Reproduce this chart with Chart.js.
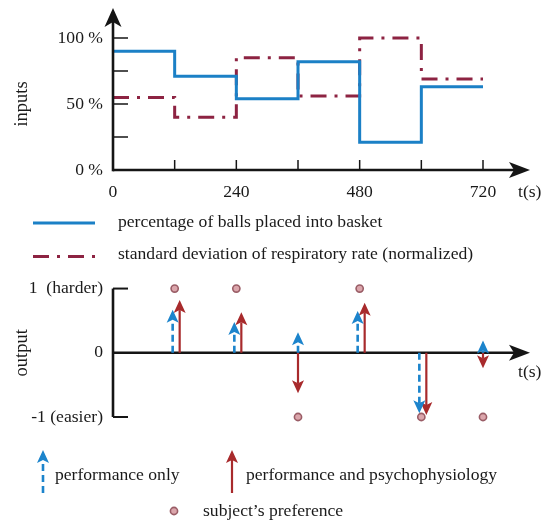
<!DOCTYPE html>
<html>
<head>
<meta charset="utf-8">
<script src="https://cdn.jsdelivr.net/npm/chart.js@4.4.1/dist/chart.umd.min.js"></script>
<style>
body { margin: 0; background: #fff; }
canvas { position: absolute; left: 0; }
#inputsChart { top: 0; }
#outputChart { top: 268px; }
</style>
</head>
<body>
<canvas id="inputsChart" width="551" height="268"></canvas>
<canvas id="outputChart" width="551" height="263"></canvas>
<script>
// ---- data ----
const times = [0, 120, 240, 360, 480, 600, 720];
const ballsPct = [90, 71, 54, 82, 21, 63, 63];      // % of balls placed into basket
const respStd = [55, 40, 85, 56, 100, 69, 69];      // std of respiratory rate (normalized, %)
const inputTickLabels = ['0 %', '50 %', '100 %'];
const timeTickLabels = ['0', '240', '480', '720'];

const changeTimes = [120, 240, 360, 480, 600, 720];
const perfOnly = [0.67, 0.48, 0.32, 0.65, -0.94, 0.19];
const perfPsycho = [0.82, 0.63, -0.63, 0.78, -0.97, -0.24];
const preference = [1, 1, -1, 1, -1, -1];
const outputTickLabels = ['-1 (easier)', '0', '1  (harder)'];

const FONT = '"Liberation Serif", "Times New Roman", serif';
const FS = 17.6;
const AXIS = '#151515';
const BLUE = '#1b80c6';
const MAROON = '#8d2342';
const RED = '#a82a2c';
const BLUE_ARROW = '#1c84cc';

Chart.defaults.font.family = FONT;
Chart.defaults.font.size = FS;
Chart.defaults.color = '#1a1a1a';

function seg(ctx, x1, y1, x2, y2) {
    ctx.beginPath();
    ctx.moveTo(x1, y1);
    ctx.lineTo(x2, y2);
    ctx.stroke();
}

// arrow head with a notched back, tip at (tx,ty), pointing along (dx,dy)
function head(ctx, tx, ty, dx, dy, len, half, notch) {
    const nx = -dy, ny = dx;
    ctx.beginPath();
    ctx.moveTo(tx, ty);
    ctx.lineTo(tx - dx * len + nx * half, ty - dy * len + ny * half);
    ctx.lineTo(tx - dx * (len - notch), ty - dy * (len - notch));
    ctx.lineTo(tx - dx * len - nx * half, ty - dy * len - ny * half);
    ctx.closePath();
    ctx.fill();
}

function arrow(ctx, x, y0, y1, color, dashed) {
    const dir = y1 < y0 ? -1 : 1;
    const hl = 13;
    ctx.save();
    ctx.strokeStyle = color;
    ctx.fillStyle = color;
    ctx.lineWidth = dashed ? 2.6 : 2.2;
    ctx.setLineDash(dashed ? [7, 4] : []);
    seg(ctx, x, y0, x, y1 - dir * (hl - 3));
    ctx.setLineDash([]);
    head(ctx, x, y1, 0, dir, hl, 6, 3);
    ctx.restore();
}

const inputsDecor = {
    id: 'inputsDecor',
    afterDatasetsDraw(chart) {
        const { ctx, chartArea: a, scales: { x, y } } = chart;
        ctx.save();
        ctx.strokeStyle = AXIS;
        ctx.fillStyle = AXIS;
        ctx.lineWidth = 1.5;
        y.ticks.forEach(t => {
            if (t.value > 0) {
                const py = y.getPixelForValue(t.value);
                seg(ctx, a.left, py, a.left + 15, py);
            }
        });
        x.ticks.forEach(t => {
            if (t.value > 0) {
                const px = x.getPixelForValue(t.value);
                seg(ctx, px, a.bottom, px, a.bottom - 10);
            }
        });
        ctx.lineWidth = 2.6;
        seg(ctx, a.left, a.bottom + 1.3, a.left, 20);
        seg(ctx, a.left, a.bottom, 516, a.bottom);
        head(ctx, a.left, 8, 0, -1, 19, 8.5, 5);
        head(ctx, 530, a.bottom, 1, 0, 21, 8, 5);
        ctx.font = FS + 'px ' + FONT;
        ctx.textBaseline = 'middle';
        ctx.fillStyle = '#1a1a1a';
        ctx.fillText('t(s)', 518, 192);
        ctx.restore();
    },
    afterDraw(chart) {
        const ctx = chart.ctx;
        ctx.save();
        ctx.lineWidth = 3;
        ctx.strokeStyle = BLUE;
        seg(ctx, 33, 223, 95, 223);
        ctx.strokeStyle = MAROON;
        ctx.setLineDash([16, 8, 3, 8]);
        seg(ctx, 33, 256.5, 97, 256.5);
        ctx.setLineDash([]);
        ctx.font = FS + 'px ' + FONT;
        ctx.textBaseline = 'middle';
        ctx.fillStyle = '#1a1a1a';
        ctx.fillText('percentage of balls placed into basket', 118, 222);
        ctx.fillText('standard deviation of respiratory rate (normalized)', 118, 254.5);
        ctx.restore();
    }
};

new Chart(document.getElementById('inputsChart'), {
    type: 'line',
    data: {
        datasets: [
            {
                data: times.map((t, i) => ({ x: t, y: ballsPct[i] })),
                borderColor: BLUE,
                borderWidth: 3,
                stepped: 'before',
                pointRadius: 0,
                clip: false
            },
            {
                data: times.map((t, i) => ({ x: t, y: respStd[i] })),
                borderColor: MAROON,
                borderWidth: 3,
                borderDash: [16, 8, 3, 8],
                stepped: 'before',
                pointRadius: 0,
                clip: false
            }
        ]
    },
    options: {
        responsive: false,
        animation: false,
        devicePixelRatio: 1,
        layout: { padding: { top: 38, right: 68, left: 0, bottom: 68 } },
        plugins: { legend: { display: false }, tooltip: { enabled: false } },
        scales: {
            x: {
                type: 'linear',
                min: 0,
                max: 720,
                grid: { display: false, drawTicks: false },
                border: { display: false },
                ticks: {
                    stepSize: 120,
                    autoSkip: false,
                    maxRotation: 0,
                    padding: 12,
                    callback: v => (v % 240 === 0 ? timeTickLabels[v / 240] : '')
                },
                afterFit: s => { s.height = 30; }
            },
            y: {
                min: 0,
                max: 100,
                grid: { display: false, drawTicks: false },
                border: { display: false },
                ticks: {
                    stepSize: 25,
                    padding: 10,
                    callback: v => (v % 50 === 0 ? inputTickLabels[v / 50] : '')
                },
                title: { display: true, text: 'inputs', font: { size: 18.5 }, padding: { top: 11, bottom: 0 } },
                afterFit: s => { s.width = 113; }
            }
        }
    },
    plugins: [inputsDecor]
});

const outputDecor = {
    id: 'outputDecor',
    beforeDatasetsDraw(chart) {
        const { ctx, chartArea: a, scales: { x, y } } = chart;
        const y0 = y.getPixelForValue(0);
        ctx.save();
        ctx.strokeStyle = AXIS;
        ctx.fillStyle = AXIS;
        ctx.lineWidth = 2.6;
        seg(ctx, a.left, a.top, a.left, a.bottom);
        seg(ctx, a.left, y0, 516, y0);
        head(ctx, 530, y0, 1, 0, 21, 8, 5);
        ctx.lineWidth = 2;
        [y.getPixelForValue(y.max), y.getPixelForValue(y.min)].forEach(py => seg(ctx, a.left, py, a.left + 15, py));
        ctx.font = FS + 'px ' + FONT;
        ctx.textBaseline = 'middle';
        ctx.fillStyle = '#1a1a1a';
        ctx.fillText('t(s)', 518, 104);

        const blueMeta = chart.getDatasetMeta(1).data;
        const redMeta = chart.getDatasetMeta(2).data;
        perfOnly.forEach((v, i) => {
            const same = Math.sign(v) === Math.sign(perfPsycho[i]);
            const bx = blueMeta[i].x + (same ? -2 : 0);
            const rx = redMeta[i].x + (same ? 5 : 0);
            arrow(ctx, rx, y0, redMeta[i].y, RED, false);
            arrow(ctx, bx, y0, blueMeta[i].y, BLUE_ARROW, true);
        });
        ctx.restore();
    },
    afterDraw(chart) {
        const ctx = chart.ctx;
        ctx.save();
        arrow(ctx, 43, 225, 182, BLUE_ARROW, true);
        arrow(ctx, 232, 225, 182, RED, false);
        ctx.beginPath();
        ctx.arc(174, 243, 3.6, 0, Math.PI * 2);
        ctx.fillStyle = '#dba6ac';
        ctx.fill();
        ctx.lineWidth = 1.6;
        ctx.strokeStyle = '#9a5d66';
        ctx.stroke();
        ctx.font = FS + 'px ' + FONT;
        ctx.textBaseline = 'middle';
        ctx.fillStyle = '#1a1a1a';
        ctx.fillText('performance only', 55, 207);
        ctx.fillText('performance and psychophysiology', 246, 207);
        ctx.fillText('subject\u2019s preference', 203, 243);
        ctx.restore();
    }
};

new Chart(document.getElementById('outputChart'), {
    type: 'scatter',
    data: {
        datasets: [
            {
                data: changeTimes.map((t, i) => ({ x: t, y: preference[i] })),
                pointRadius: 3.6,
                pointBackgroundColor: '#dba6ac',
                pointBorderColor: '#9a5d66',
                pointBorderWidth: 1.6,
                clip: false
            },
            {
                data: changeTimes.map((t, i) => ({ x: t, y: perfOnly[i] })),
                pointRadius: 0,
                clip: false
            },
            {
                data: changeTimes.map((t, i) => ({ x: t, y: perfPsycho[i] })),
                pointRadius: 0,
                clip: false
            }
        ]
    },
    options: {
        responsive: false,
        animation: false,
        devicePixelRatio: 1,
        layout: { padding: { top: 17, right: 68, left: 0, bottom: 114 } },
        plugins: { legend: { display: false }, tooltip: { enabled: false } },
        scales: {
            x: {
                type: 'linear',
                min: 0,
                max: 720,
                display: false
            },
            y: {
                min: -1,
                max: 1,
                grid: { display: false, drawTicks: false },
                border: { display: false },
                ticks: {
                    stepSize: 1,
                    padding: 10,
                    callback: v => outputTickLabels[v + 1]
                },
                title: { display: true, text: 'output', font: { size: 18.5 }, padding: { top: 11, bottom: 0 } },
                afterFit: s => { s.width = 113; }
            }
        }
    },
    plugins: [outputDecor]
});
</script>
</body>
</html>
